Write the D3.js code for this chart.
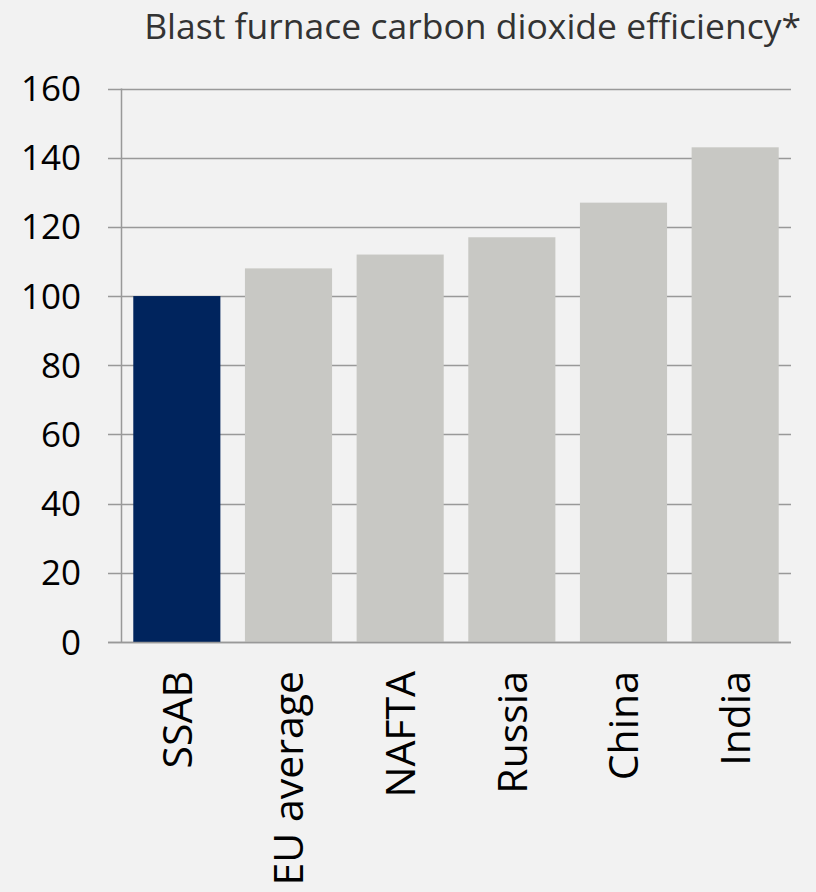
<!DOCTYPE html>
<html>
<head>
<meta charset="utf-8">
<script src="https://cdn.jsdelivr.net/npm/d3@7"></script>
<style>
  body { margin: 0; background: #f2f2f2; }
  svg { display: block; }
</style>
</head>
<body>
<div id="chart"></div>
<script>
// data
var categories = ["SSAB", "EU average", "NAFTA", "Russia", "China", "India"];
var values = [100, 108, 112, 117, 127, 143];
var yTicks = [0, 20, 40, 60, 80, 100, 120, 140, 160];
var title = "Blast furnace carbon dioxide efficiency*";

var width = 816, height = 892;
var fontFam = "'Open Sans', Carlito, Calibri, sans-serif";

var svg = d3.select("#chart")
            .append("svg")
            .attr("width", width)
            .attr("height", height);

svg.append("rect")
   .attr("width", width)
   .attr("height", height)
   .attr("fill", "#f2f2f2");

var plotLeft = 121, plotRight = 791, plotTop = 88.5, plotBottom = 642;

var x = d3.scaleBand()
          .domain(categories)
          .range([plotLeft, plotRight])
          .paddingInner(0.22)
          .paddingOuter(0.11);

var y = d3.scaleLinear()
          .domain([0, 160])
          .range([plotBottom, plotTop]);

// gridlines with small outward ticks
svg.append("g")
   .selectAll("line")
   .data(yTicks)
   .join("line")
   .attr("x1", plotLeft - 13)
   .attr("x2", plotRight)
   .attr("y1", d => Math.round(y(d)) + 0.5)
   .attr("y2", d => Math.round(y(d)) + 0.5)
   .attr("stroke", "#999999")
   .attr("stroke-width", 1.5);

// bars
svg.append("g")
   .selectAll("rect")
   .data(categories)
   .join("rect")
   .attr("x", d => x(d))
   .attr("width", x.bandwidth())
   .attr("y", (d, i) => y(values[i]))
   .attr("height", (d, i) => y(0) - y(values[i]))
   .attr("fill", (d, i) => i == 0 ? "#00245d" : "#c8c8c4");

// y axis line
svg.append("line")
   .attr("x1", plotLeft + 0.5)
   .attr("x2", plotLeft + 0.5)
   .attr("y1", plotTop)
   .attr("y2", plotBottom)
   .attr("stroke", "#999999")
   .attr("stroke-width", 1.5);

// baseline drawn over the bars
svg.append("line")
   .attr("x1", plotLeft - 13)
   .attr("x2", plotRight)
   .attr("y1", Math.round(y(0)) + 0.5)
   .attr("y2", Math.round(y(0)) + 0.5)
   .attr("stroke", "#999999")
   .attr("stroke-width", 1.5);

// y tick labels
svg.append("g")
   .selectAll("text")
   .data(yTicks)
   .join("text")
   .attr("x", 81)
   .attr("y", d => y(d))
   .attr("dy", "0.36em")
   .attr("text-anchor", "end")
   .attr("font-family", fontFam)
   .attr("font-size", 35)
   .attr("fill", "#000")
   .text(d => d);

// category labels, rotated
svg.append("g")
   .selectAll("text")
   .data(categories)
   .join("text")
   .attr("transform", d => "translate(" + (x(d) + x.bandwidth() / 2) + "," + 671 + ") rotate(-90)")
   .attr("dy", "0.36em")
   .attr("text-anchor", "end")
   .attr("font-family", fontFam)
   .attr("font-size", 41)
   .attr("fill", "#000")
   .text(d => d);

// title
svg.append("text")
   .attr("x", 801)
   .attr("y", 39)
   .attr("text-anchor", "end")
   .attr("font-family", fontFam)
   .attr("font-size", 35.5)
   .attr("fill", "#333")
   .text(title);
</script>
</body>
</html>
